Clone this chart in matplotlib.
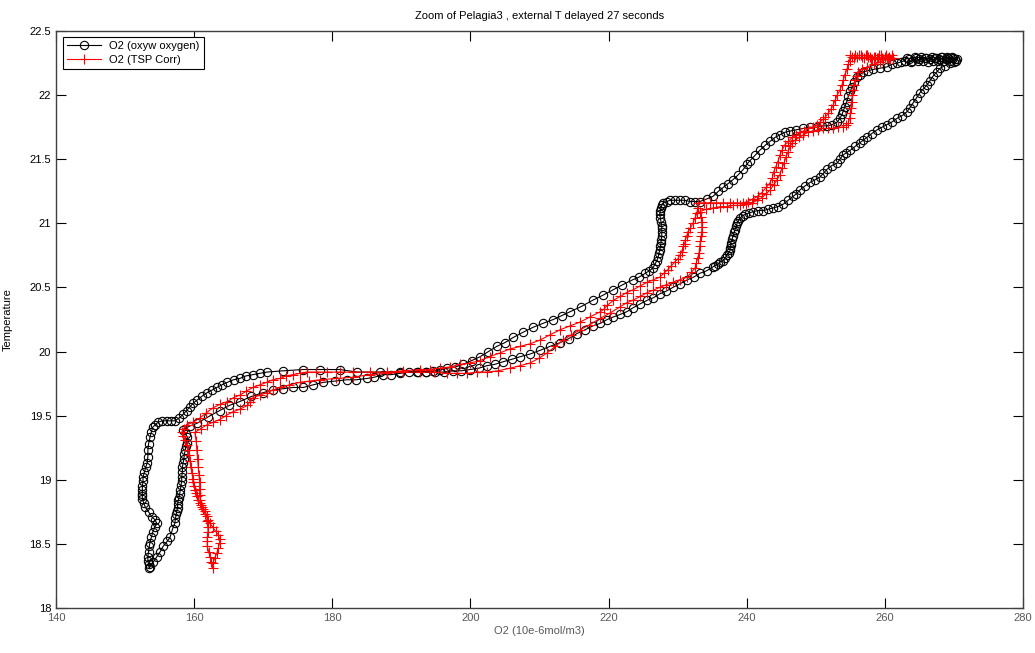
import matplotlib
matplotlib.use("Agg")
import matplotlib.pyplot as plt

plt.rcParams['font.family'] = ['Liberation Sans', 'DejaVu Sans']

# O2 from the oxygen optode (black, circles): surface soak, down the right branch,
# back up the left one
o2_oxyw = [
    # surface soak
    262.9, 263.2, 263.5, 263.8, 264.0, 264.3, 264.5, 264.8, 265.0, 265.3,
    265.5, 265.8, 266.0, 266.3, 266.5, 266.8, 267.0, 267.2, 267.4, 267.7,
    267.9, 268.1, 268.3, 268.6, 268.8, 269.0, 269.2, 269.5, 269.7, 269.9,
    270.1, 270.3, 270.4, 270.0,
    # right branch down to 21.07
    269.4, 268.7, 268.0, 267.5, 267.0, 266.5, 266.1, 265.6, 265.1, 264.6,
    264.1, 263.6, 263.2, 262.5, 261.8, 261.0, 260.3, 259.6, 258.9, 258.1,
    257.4, 256.9, 256.4, 255.7, 255.0, 254.4, 253.9, 253.5, 253.1, 252.3,
    251.6, 251.1, 250.6, 249.9, 249.2, 248.4, 247.7, 247.2, 246.7, 246.0,
    245.3, 244.5, 243.8, 243.1, 242.4, 241.6, 240.9, 240.3, 239.8,
    # step near 238
    239.4, 239.0, 238.8, 238.6, 238.5, 238.3, 238.2, 238.0, 237.9, 237.7,
    237.7, 237.6, 237.6, 237.4, 237.1, 236.9, 236.6, 236.2, 235.8, 235.4,
    235.1,
    # down to 19.84
    234.2, 233.2, 232.3, 231.4, 230.4, 229.3, 228.3, 227.4, 226.5, 225.6,
    224.5, 223.5, 222.6, 221.7, 220.7, 219.8, 218.8, 217.7, 216.6, 215.4,
    214.2, 213.0, 211.5, 210.1, 208.6, 207.2, 206.0, 204.7, 203.5, 202.4,
    201.2, 199.9, 198.7, 197.5, 196.2, 194.9, 193.6, 192.4,
    # lower left
    191.1, 189.8, 188.5, 187.3, 186.1, 185.0, 183.5, 182.1, 180.4, 178.7,
    177.2, 175.8, 174.3, 172.9, 171.4, 170.0, 168.3, 166.6, 165.1, 163.7,
    162.0, 160.4, 159.4, 158.4,
    # bottom loop, right side down
    158.8, 159.0, 158.9, 158.8, 158.7, 158.6, 158.5, 158.4, 158.3, 158.3,
    158.2, 158.2, 158.1, 158.0, 157.9, 157.8, 157.7, 157.6, 157.6, 157.5,
    157.4, 157.3, 157.2, 156.9, 156.5, 156.1, 155.5, 155.1, 154.6, 154.1,
    153.6, 153.5,
    # bottom loop, left side up
    153.4, 153.3, 153.3, 153.4, 153.5, 153.6, 153.8, 154.0, 154.3, 154.6,
    154.3, 153.9, 153.4, 152.9, 152.7, 152.5, 152.5, 152.5, 152.5, 152.5,
    152.6, 152.6, 152.8, 153.0, 153.2, 153.3, 153.3, 153.4, 153.6, 153.8,
    154.0, 154.4, 154.8, 155.4, 156.1, 156.6, 157.2, 157.8,
    # upper line to 19.84
    158.4, 158.9, 159.4, 159.9, 160.4, 161.1, 161.9, 162.6, 163.3, 164.0,
    164.8, 165.7, 166.6, 167.5, 168.5, 169.5, 170.5, 172.9, 175.8, 178.2,
    181.1, 183.6, 186.9, 189.8, 192.3,
    # up to 20.65
    193.5, 194.6, 195.6, 196.6, 197.8, 198.9, 200.2, 201.4, 202.6, 203.8,
    205.0, 206.2, 207.6, 209.1, 210.5, 212.0, 213.2, 214.4, 216.0, 217.7,
    219.2, 220.6, 222.0, 223.5, 224.4, 225.3, 225.9, 226.4,
    # step near 227.5
    226.7, 227.0, 227.2, 227.3, 227.4, 227.5, 227.6, 227.6, 227.7, 227.7,
    227.7, 227.7, 227.6, 227.5, 227.4, 227.5, 227.6, 227.7, 227.9,
    # up to the surface
    228.4, 228.9, 229.6, 230.3, 231.0, 231.8, 232.5, 233.2, 234.2, 235.1,
    235.9, 236.6, 237.3, 238.0, 238.8, 239.5, 240.0, 240.5, 241.2, 241.9,
    242.7, 243.4, 244.1, 244.8, 245.5, 246.3, 247.2, 248.2, 249.2, 250.2,
    250.9, 251.6, 252.4, 253.1, 253.5, 253.8, 254.0, 254.2, 254.5, 254.7,
    255.0, 255.2, 255.6, 256.0, 256.4, 256.8, 257.5, 258.3, 259.3, 260.3,
    261.0, 261.8, 262.4, 262.9,
]
t_oxyw = [
    22.27, 22.29, 22.28, 22.26, 22.27, 22.30, 22.29, 22.27, 22.28, 22.30,
    22.27, 22.29, 22.29, 22.26, 22.28, 22.30, 22.27, 22.29, 22.29, 22.27,
    22.28, 22.30, 22.30, 22.27, 22.28, 22.30, 22.29, 22.27, 22.30, 22.29,
    22.28, 22.27, 22.28, 22.26,
    22.25, 22.23, 22.21, 22.18, 22.15, 22.11, 22.08, 22.05, 22.02, 21.98,
    21.94, 21.90, 21.87, 21.84, 21.82, 21.79, 21.77, 21.75, 21.73, 21.70,
    21.67, 21.65, 21.63, 21.60, 21.57, 21.55, 21.53, 21.50, 21.47, 21.45,
    21.42, 21.39, 21.36, 21.34, 21.32, 21.29, 21.26, 21.23, 21.21, 21.18,
    21.15, 21.13, 21.12, 21.11, 21.10, 21.10, 21.09, 21.08, 21.07,
    21.06, 21.04, 21.02, 21.00, 20.98, 20.95, 20.93, 20.90, 20.88, 20.85,
    20.83, 20.81, 20.79, 20.77, 20.75, 20.73, 20.71, 20.70, 20.68, 20.67,
    20.66,
    20.63, 20.61, 20.58, 20.56, 20.53, 20.50, 20.47, 20.45, 20.42, 20.40,
    20.37, 20.34, 20.31, 20.29, 20.27, 20.25, 20.22, 20.20, 20.17, 20.14,
    20.10, 20.07, 20.04, 20.01, 19.98, 19.96, 19.94, 19.92, 19.90, 19.89,
    19.87, 19.86, 19.85, 19.85, 19.84, 19.84, 19.84, 19.84,
    19.84, 19.83, 19.82, 19.82, 19.80, 19.79, 19.78, 19.78, 19.77, 19.76,
    19.74, 19.72, 19.72, 19.71, 19.70, 19.68, 19.65, 19.61, 19.58, 19.54,
    19.49, 19.44, 19.42, 19.39,
    19.36, 19.33, 19.29, 19.26, 19.23, 19.20, 19.16, 19.13, 19.10, 19.06,
    19.02, 18.99, 18.96, 18.92, 18.89, 18.86, 18.84, 18.81, 18.78, 18.76,
    18.73, 18.70, 18.66, 18.62, 18.55, 18.52, 18.48, 18.44, 18.40, 18.36,
    18.32, 18.31,
    18.34, 18.37, 18.40, 18.44, 18.48, 18.51, 18.55, 18.59, 18.63, 18.66,
    18.69, 18.71, 18.75, 18.79, 18.82, 18.85, 18.87, 18.89, 18.92, 18.95,
    18.99, 19.02, 19.06, 19.10, 19.13, 19.18, 19.23, 19.28, 19.33, 19.37,
    19.41, 19.43, 19.45, 19.46, 19.46, 19.46, 19.46, 19.48,
    19.51, 19.54, 19.57, 19.60, 19.62, 19.65, 19.68, 19.70, 19.72, 19.74,
    19.76, 19.78, 19.79, 19.81, 19.82, 19.83, 19.84, 19.85, 19.86, 19.86,
    19.86, 19.84, 19.84, 19.84, 19.84,
    19.84, 19.85, 19.86, 19.87, 19.88, 19.90, 19.93, 19.96, 20.00, 20.04,
    20.07, 20.11, 20.15, 20.19, 20.22, 20.25, 20.28, 20.31, 20.35, 20.40,
    20.44, 20.48, 20.52, 20.56, 20.58, 20.61, 20.63, 20.65,
    20.68, 20.71, 20.74, 20.77, 20.79, 20.82, 20.85, 20.87, 20.90, 20.93,
    20.96, 20.98, 21.01, 21.04, 21.07, 21.10, 21.12, 21.14, 21.16,
    21.17, 21.18, 21.18, 21.18, 21.18, 21.17, 21.17, 21.17, 21.19, 21.21,
    21.25, 21.28, 21.31, 21.34, 21.38, 21.42, 21.46, 21.49, 21.53, 21.57,
    21.61, 21.64, 21.67, 21.69, 21.71, 21.72, 21.73, 21.74, 21.75, 21.75,
    21.76, 21.76, 21.77, 21.79, 21.82, 21.85, 21.88, 21.91, 21.95, 21.99,
    22.03, 22.06, 22.10, 22.14, 22.16, 22.18, 22.19, 22.20, 22.21, 22.22,
    22.24, 22.25, 22.26, 22.27,
]

# O2 corrected with the TSP temperature (red, plus signs)
o2_tsp = [
    # surface
    261.2, 261.0, 260.8, 260.6, 260.4, 260.2, 260.0, 259.8, 259.6, 259.4,
    259.2, 259.0, 258.8, 258.6, 258.4, 258.2, 258.0, 257.8, 257.6, 257.4,
    257.2, 257.0, 256.7, 256.5, 256.2, 256.0, 255.7, 255.5, 255.3, 255.0,
    # left branch down to 21.16
    254.9, 254.7, 254.5, 254.2, 254.0, 253.8, 253.5, 253.1, 252.8, 252.5,
    252.2, 251.8, 251.4, 251.0, 250.6, 250.2, 249.6, 248.9, 248.3, 247.7,
    247.2, 246.6, 246.0, 245.5, 245.1, 244.8, 244.5, 244.2, 243.9, 243.7,
    243.3, 242.8, 242.2, 241.6, 240.9, 240.2, 239.4, 238.6, 237.6, 236.6,
    235.6, 234.7, 233.8, 232.9,
    # down to 19.84
    232.9, 232.8, 232.5, 232.2, 231.8, 231.5, 231.3, 231.1, 231.0, 230.8,
    230.6, 230.3, 230.0, 229.6, 229.1, 228.6, 228.0, 227.4, 226.5, 225.6,
    224.5, 223.5, 222.6, 221.7, 220.7, 219.8, 219.3, 218.8, 217.3, 215.9,
    214.4, 213.0, 211.5, 210.1, 208.6, 207.2, 205.7, 204.3, 202.8, 201.4,
    199.9, 198.5, 197.0, 195.6, 194.1, 192.7, 190.3, 187.9, 185.4, 183.0,
    181.1, 179.2, 177.7, 176.3, 175.3, 174.3, 173.3, 172.4, 171.4, 170.5,
    169.5, 168.5, 167.5, 166.6, 165.7, 164.8, 163.8, 162.7, 161.7, 160.8,
    159.9, 159.0,
    # down to the bottom
    158.5, 158.2, 158.4, 158.7, 158.9, 159.1, 159.2, 159.4, 159.5, 159.7,
    159.8, 159.8, 160.0, 160.1, 160.3, 160.4, 160.6, 160.8, 161.2, 161.6,
    161.8, 162.0, 162.3, 162.7, 163.1, 163.5, 163.7, 163.7, 163.5, 163.3,
    163.0, 162.7, 162.7,
    # back up
    162.5, 162.3, 162.1, 161.9, 161.9, 161.9, 162.0, 162.0, 161.8, 161.6,
    161.3, 161.0, 160.9, 160.8, 160.8, 160.8, 160.7, 160.6, 160.5, 160.4,
    160.3, 160.1,
    # lower line to 19.84 and up to 20.58
    161.0, 161.9, 162.8, 163.7, 164.6, 165.6, 166.6, 167.7, 168.1, 168.5,
    169.5, 170.5, 171.4, 172.4, 173.8, 175.3, 176.7, 178.2, 180.6, 183.0,
    185.4, 187.9, 190.3, 192.7, 194.7, 196.6, 198.0, 199.5, 201.0, 202.4,
    204.0, 205.7, 207.2, 208.6, 210.0, 211.1, 212.3, 213.4, 214.6, 215.9,
    217.3, 218.8, 220.2, 221.7, 222.6, 223.5, 224.6, 225.6, 226.5, 227.4,
    228.3, 229.3, 230.3, 231.4,
    # step near 233
    232.0, 232.5, 232.7, 232.9, 233.1, 233.2, 233.3, 233.4, 233.5, 233.5,
    233.5, 233.4, 233.2,
    # right branch up to the surface
    234.1, 235.1, 236.1, 237.1, 238.0, 239.0, 239.9, 240.8, 241.5, 242.2,
    242.8, 243.4, 243.9, 244.4, 244.8, 245.1, 245.4, 245.7, 246.0, 246.3,
    246.6, 247.0, 247.6, 248.2, 248.9, 249.6, 250.3, 251.0, 251.7, 252.5,
    253.2, 253.9, 254.4, 254.7, 254.9, 255.0, 255.1, 255.2, 255.3, 255.4,
    255.5, 255.7, 255.9, 256.1, 256.7, 257.4, 258.4, 259.3, 260.3, 261.2,
]
t_tsp = [
    22.29, 22.31, 22.28, 22.30, 22.29, 22.31, 22.30, 22.28, 22.29, 22.31,
    22.31, 22.29, 22.29, 22.30, 22.30, 22.28, 22.28, 22.30, 22.30, 22.31,
    22.31, 22.29, 22.30, 22.31, 22.31, 22.30, 22.31, 22.29, 22.30, 22.31,
    22.27, 22.24, 22.20, 22.16, 22.12, 22.08, 22.04, 22.00, 21.96, 21.92,
    21.89, 21.86, 21.83, 21.81, 21.79, 21.77, 21.75, 21.74, 21.72, 21.71,
    21.69, 21.67, 21.64, 21.61, 21.57, 21.53, 21.48, 21.44, 21.40, 21.35,
    21.31, 21.28, 21.24, 21.21, 21.19, 21.17, 21.16, 21.16, 21.16, 21.16,
    21.16, 21.16, 21.16, 21.16,
    21.12, 21.08, 21.04, 21.00, 20.96, 20.93, 20.90, 20.87, 20.84, 20.82,
    20.78, 20.75, 20.72, 20.70, 20.67, 20.64, 20.61, 20.58, 20.56, 20.54,
    20.51, 20.48, 20.46, 20.43, 20.40, 20.36, 20.33, 20.31, 20.27, 20.23,
    20.20, 20.17, 20.13, 20.09, 20.06, 20.04, 20.02, 19.99, 19.96, 19.93,
    19.91, 19.90, 19.88, 19.87, 19.86, 19.86, 19.85, 19.84, 19.84, 19.84,
    19.84, 19.84, 19.84, 19.84, 19.83, 19.82, 19.81, 19.79, 19.78, 19.76,
    19.74, 19.72, 19.69, 19.66, 19.64, 19.61, 19.59, 19.56, 19.52, 19.48,
    19.45, 19.43,
    19.40, 19.37, 19.34, 19.31, 19.27, 19.23, 19.19, 19.15, 19.10, 19.05,
    19.01, 18.98, 18.95, 18.92, 18.90, 18.87, 18.84, 18.82, 18.79, 18.76,
    18.72, 18.69, 18.66, 18.63, 18.60, 18.57, 18.54, 18.51, 18.47, 18.43,
    18.39, 18.35, 18.31,
    18.36, 18.40, 18.44, 18.48, 18.52, 18.55, 18.59, 18.63, 18.68, 18.73,
    18.77, 18.80, 18.84, 18.88, 18.93, 18.98, 19.04, 19.10, 19.16, 19.23,
    19.30, 19.37,
    19.40, 19.43, 19.45, 19.47, 19.50, 19.53, 19.55, 19.58, 19.61, 19.64,
    19.66, 19.68, 19.70, 19.72, 19.74, 19.76, 19.77, 19.78, 19.79, 19.80,
    19.82, 19.83, 19.84, 19.84, 19.84, 19.83, 19.83, 19.83, 19.84, 19.84,
    19.85, 19.87, 19.89, 19.91, 19.95, 19.99, 20.04, 20.09, 20.13, 20.17,
    20.21, 20.26, 20.30, 20.35, 20.38, 20.40, 20.43, 20.46, 20.48, 20.50,
    20.52, 20.54, 20.56, 20.58,
    20.62, 20.65, 20.69, 20.73, 20.77, 20.82, 20.86, 20.90, 20.93, 20.97,
    21.01, 21.05, 21.09,
    21.11, 21.12, 21.13, 21.13, 21.14, 21.14, 21.15, 21.16, 21.18, 21.20,
    21.23, 21.26, 21.30, 21.34, 21.38, 21.43, 21.47, 21.52, 21.56, 21.60,
    21.63, 21.65, 21.67, 21.69, 21.71, 21.72, 21.73, 21.74, 21.74, 21.74,
    21.75, 21.75, 21.77, 21.78, 21.82, 21.86, 21.90, 21.95, 22.00, 22.04,
    22.08, 22.12, 22.15, 22.18, 22.20, 22.22, 22.24, 22.26, 22.28, 22.29,
]

assert len(o2_oxyw) == len(t_oxyw), (len(o2_oxyw), len(t_oxyw))
assert len(o2_tsp) == len(t_tsp), (len(o2_tsp), len(t_tsp))

x_ticks = [140, 160, 180, 200, 220, 240, 260, 280]
y_ticks = [18, 18.5, 19, 19.5, 20, 20.5, 21, 21.5, 22, 22.5]
y_tick_labels = ['18', '18.5', '19', '19.5', '20', '20.5', '21', '21.5', '22', '22.5']

fig = plt.figure(figsize=(10.35, 6.53), dpi=100)
ax = fig.add_axes([0.0541, 0.0689, 0.9343, 0.8836])

ax.plot(o2_oxyw, t_oxyw, '-o', color='black', lw=0.8, ms=6, mfc='none', mew=0.8,
        label='O2 (oxyw oxygen)')
ax.plot(o2_tsp, t_tsp, '-+', color='red', lw=0.8, ms=7.5, mew=0.8,
        label='O2 (TSP Corr)')

ax.set_xlim(140, 280)
ax.set_ylim(18, 22.5)
ax.set_xticks(x_ticks)
ax.set_yticks(y_ticks)
ax.set_yticklabels(y_tick_labels)
ax.tick_params(direction='in', length=7, width=0.8, top=True, right=True, labelsize=8)
ax.tick_params(axis='x', labelcolor='0.35')
for s in ax.spines.values():
    s.set_linewidth(1.0)
    s.set_color('0.25')

ax.set_title('Zoom of Pelagia3 , external T delayed 27 seconds', fontsize=8, pad=9)
ax.set_xlabel('O2 (10e-6mol/m3)', fontsize=8, color='0.35', labelpad=2)
ax.set_ylabel('Temperature', fontsize=8, labelpad=12)

leg = ax.legend(loc='upper left', bbox_to_anchor=(0.007, 0.99), borderaxespad=0,
                fontsize=8, handlelength=3, fancybox=False, framealpha=1,
                edgecolor='black', borderpad=0.4, labelspacing=0.3)
leg.get_frame().set_linewidth(0.8)

fig.savefig('out.png', dpi=100)
